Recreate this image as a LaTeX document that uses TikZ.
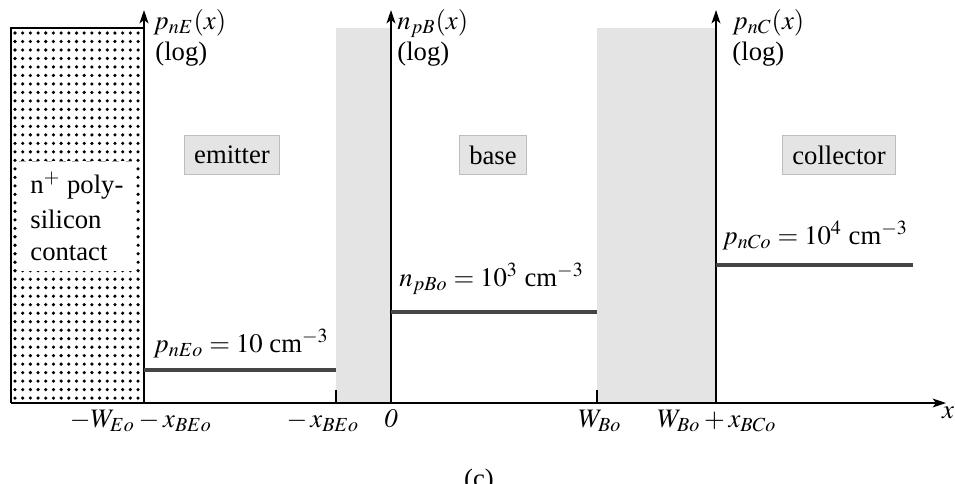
\documentclass[tikz,border=0pt]{standalone}
\usepackage{mathptmx}
\usepackage{fontspec}
\setmainfont{Liberation Serif}
\usetikzlibrary{arrows.meta}
\definecolor{depGray}{HTML}{E4E4E4}
\definecolor{lvlGray}{HTML}{454545}
\definecolor{boxGray}{HTML}{BDBDBD}
\definecolor{dashGray}{HTML}{AAAAAA}

\begin{document}
\begin{tikzpicture}[x=0.45pt,y=-0.45pt,
      every node/.style={font=\fontsize{12}{14}\selectfont, inner sep=0pt},
      axis/.style={-{Stealth[length=6pt,width=4pt,inset=1.5pt]}, line width=0.8pt},
      lvl/.style={draw=lvlGray, line width=1.5pt},
      dep/.style={fill=depGray, draw=none},
      reg/.style={draw=boxGray, fill=depGray, inner xsep=4.5pt,
                  minimum height=17.5pt}]
    \useasboundingbox (0,0) rectangle (955,483);
    % depletion regions
    \fill[dep] (336,28) rectangle (391,403);
    \fill[dep] (597,28) rectangle (716,403);
    \draw[line width=0.6pt] (336,390) -- (336,403);
    \draw[line width=0.6pt] (597,390) -- (597,403);
    % poly-silicon contact
    \foreach \i in {0,...,16}
      \foreach \j in {0,...,43}
        {\fill (15+\i*7.69, 33+\j*8.49) circle (0.8pt);}
    \fill[white] (19,161) rectangle (134,271);
    \draw[dashGray, dashed, line width=0.4pt] (19,161) -- (134,161);
    \draw[line width=0.9pt] (144,28) -- (11,28) -- (11,403);
    \node[anchor=base west] (poly) at (30,193) {n$^+$ poly-};
    \node[anchor=base west] (sil) at (30,228) {silicon};
    \node[anchor=base west] (cont) at (30,260) {contact};
    % axes
    \coordinate (x0) at (11,403);
    \coordinate (x1) at (946,403);
    \coordinate (eB) at (144,403);  \coordinate (eT) at (144,10);
    \coordinate (bB) at (391,403);  \coordinate (bT) at (391,10);
    \coordinate (cB) at (716,403);  \coordinate (cT) at (716,10);
    \draw[axis] (x0) -- (x1);
    \foreach \a/\b in {eB/eT,bB/bT,cB/cT}
      {\draw[axis] (\a) -- (\b);}
    \node[anchor=base west] (yE) at (153,29) {$p_{nE}(x)$};
    \node[anchor=base west] (lE) at (155,60) {(log)};
    \node[anchor=base west] (yB) at (397,29) {$n_{pB}(x)$};
    \node[anchor=base west] (lB) at (397,60) {(log)};
    \node[anchor=base west] (yC) at (732,29) {$p_{nC}(x)$};
    \node[anchor=base west] (lC) at (732,60) {(log)};
    % regions
    \node[reg] (em) at (232,155) {emitter};
    \node[reg] (ba) at (493,155) {base};
    \node[reg] (co) at (839,155) {collector};
    % equilibrium minority carrier levels
    \draw[lvl] (144,370) -- (336,370);
    \draw[lvl] (391,312) -- (597,312);
    \draw[lvl] (716,265) -- (913,265);
    \node[anchor=base west] (pE) at (153,352) {$p_{nEo} = 10$ cm$^{-3}$};
    \node[anchor=base west] (nB) at (399,286) {$n_{pBo} = 10^3$ cm$^{-3}$};
    \node[anchor=base west] (pC) at (722,244) {$p_{nCo} = 10^4$ cm$^{-3}$};
    % x ticks
    \node[anchor=base] (t1) at (141,427) {$-W_{Eo} - x_{BEo}$};
    \node[anchor=base] (t2) at (323,427) {$-\,x_{BEo}$};
    \node[anchor=base] (t3) at (391,427) {$\mathit{0}$};
    \node[anchor=base] (t4) at (600,427) {$W_{Bo}$};
    \node[anchor=base] (t5) at (717,427) {$W_{Bo} + x_{BCo}$};
    \node[anchor=base] (xl) at (948,418) {$x$};
    \node[anchor=base] (cap) at (479,487) {(c)};
  \end{tikzpicture}
\end{document}
